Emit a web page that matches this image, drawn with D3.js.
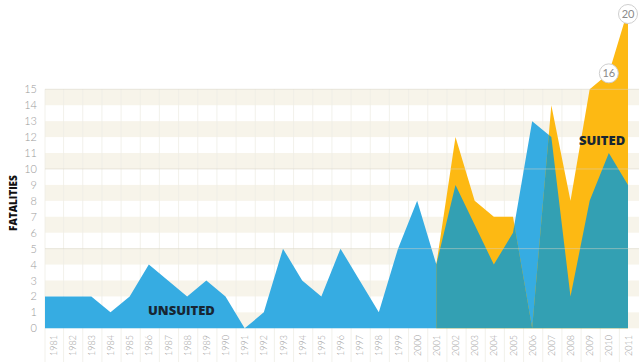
<!DOCTYPE html>
<html>
<head>
<meta charset="utf-8">
<script src="https://cdn.jsdelivr.net/npm/d3@7"></script>
<style>
  html, body { margin: 0; padding: 0; background: #fff; }
  svg { display: block; }
</style>
</head>
<body>
<svg id="chart" width="639" height="362"></svg>
<script>
// ---- data ----
const years = d3.range(1981, 2012);
const unsuited = [2,2,2,1,2,4,3,2,3,2,0,1,5,3,2,5,3,1,5,8,4,9,6.5,4,6,13,12,2,8,11,9];
const suitedYears = d3.range(2001, 2012);
const suited = [4,12,8,7,7,0,14,8,15,16,20];
const yTicks = d3.range(0, 16);
const markerYears = [2010, 2011];
const seriesLabels = ["UNSUITED", "SUITED"];
const axisTitle = "FATALITIES";

// ---- layout ----
const W = 639, H = 362;
const plotLeft = 45, plotRight = 639, plotTop = 89.3, plotBottom = 328.3;

const svg = d3.select("#chart");
const x = d3.scaleLinear().domain([1981, 2011]).range([53, 628]);
const y = d3.scaleLinear().domain([0, 15]).range([plotBottom, plotTop]);

const colBlue = "#36ace2", colYellow = "#fdb913", colTeal = "#33a0b3";
const colBeige = "#f7f4ea", colDark = "#172633";

// stripes
svg.append("g").selectAll("rect")
  .data(yTicks.filter(v => v < 15 && v % 2 === 0))
  .join("rect")
  .attr("x", plotLeft).attr("width", plotRight - plotLeft)
  .attr("y", d => y(d + 1)).attr("height", d => y(d) - y(d + 1))
  .attr("fill", colBeige);

// vertical grid lines (between years)
const vLines = [plotLeft].concat(years.slice(0, -1).map(yr => x(yr + 0.5) + 1));
svg.append("g").selectAll("line")
  .data(vLines).join("line")
  .attr("x1", d => d).attr("x2", d => d)
  .attr("y1", plotTop).attr("y2", H)
  .attr("stroke", "#efede6").attr("stroke-width", 0.8);

// areas
const blueData = [{yr: null, v: unsuited[0], px: plotLeft}]
  .concat(years.map((yr, i) => ({yr, v: unsuited[i], px: x(yr)})));
const yellowData = suitedYears.map((yr, i) => ({yr, v: suited[i], px: x(yr)}));

const area = d3.area().x(d => d.px).y0(y(0)).y1(d => y(d.v));

svg.append("defs").append("clipPath").attr("id", "yclip")
  .append("path").attr("d", area(yellowData));

svg.append("path").attr("d", area(blueData)).attr("fill", colBlue);
svg.append("path").attr("d", area(yellowData)).attr("fill", colYellow);
svg.append("path").attr("d", area(blueData)).attr("fill", colTeal)
  .attr("clip-path", "url(#yclip)");

// horizontal rule lines at 5,10,15
svg.append("g").selectAll("line")
  .data(yTicks.filter(v => v > 0 && v % 5 === 0)).join("line")
  .attr("x1", plotLeft).attr("x2", plotRight)
  .attr("y1", d => y(d)).attr("y2", d => y(d))
  .attr("stroke", "#d8d3c4").attr("stroke-opacity", 0.5).attr("stroke-width", 1);

// y axis
const yAxis = d3.axisLeft(y).tickValues(yTicks).tickSize(0).tickPadding(0);
const gy = svg.append("g").attr("transform", `translate(37,0)`).call(yAxis);
gy.select(".domain").remove();
gy.selectAll("text")
  .attr("fill", "#9a9a9a")
  .style("font-family", "Lato, 'Open Sans', sans-serif")
  .style("font-weight", 300)
  .style("font-size", "11px");

// x axis
const xAxis = d3.axisBottom(x).tickValues(years).tickFormat(d3.format("d")).tickSize(0).tickPadding(0);
const gx = svg.append("g").attr("transform", `translate(0,335)`).call(xAxis);
gx.select(".domain").remove();
gx.selectAll("text")
  .attr("transform", "rotate(-90)")
  .attr("text-anchor", "end")
  .attr("x", 0).attr("y", 0).attr("dy", "0.35em")
  .attr("fill", "#9c9c9c")
  .style("font-family", "Lato, 'Open Sans', sans-serif")
  .style("font-weight", 300)
  .style("font-size", "9px");

// axis title
svg.append("text")
  .attr("transform", `translate(17,203) rotate(-90)`)
  .attr("text-anchor", "middle")
  .attr("fill", "#111")
  .style("font-family", "'Open Sans', sans-serif")
  .style("font-weight", 800)
  .style("font-size", "10px")
  .text(axisTitle);

// series labels
svg.append("text")
  .attr("x", x(1987.7)).attr("y", y(1.08))
  .attr("text-anchor", "middle").attr("dominant-baseline", "middle")
  .attr("fill", colDark)
  .style("font-family", "'Open Sans', sans-serif")
  .style("font-weight", 800).style("font-size", "13px")
  .text(seriesLabels[0]);
svg.append("text")
  .attr("x", x(2009.65)).attr("y", y(11.75))
  .attr("text-anchor", "middle").attr("dominant-baseline", "middle")
  .attr("fill", colDark)
  .style("font-family", "'Open Sans', sans-serif")
  .style("font-weight", 800).style("font-size", "13px")
  .text(seriesLabels[1]);

// value markers
const mk = svg.append("g").selectAll("g")
  .data(markerYears.map(yr => ({yr, v: suited[suitedYears.indexOf(yr)]})))
  .join("g")
  .attr("transform", d => `translate(${x(d.yr)},${Math.max(y(d.v), 14)})`);
mk.append("circle").attr("r", 9.5)
  .attr("fill", "#fff").attr("stroke", "#cfcfcf").attr("stroke-width", 1);
mk.append("text")
  .attr("text-anchor", "middle").attr("dy", "0.36em")
  .attr("fill", "#8a8a8a")
  .style("font-family", "Lato, 'Open Sans', sans-serif")
  .style("font-weight", 400).style("font-size", "11px")
  .text(d => d.v);
</script>
</body>
</html>
